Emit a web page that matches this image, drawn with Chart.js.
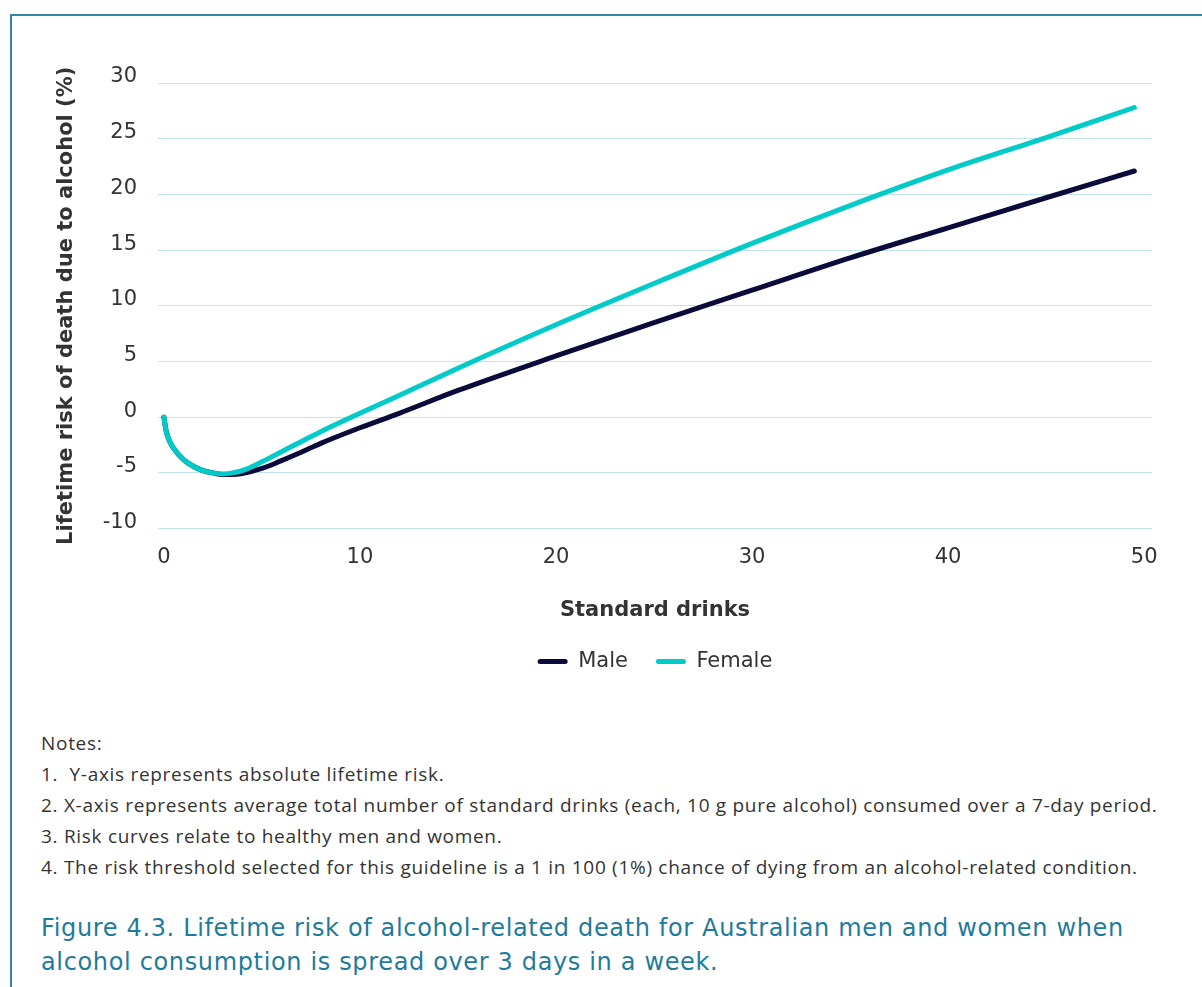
<!DOCTYPE html>
<html>
<head>
<meta charset="utf-8">
<script src="https://cdn.jsdelivr.net/npm/chart.js@4"></script>
<style>
  body { margin: 0; background: #fff; font-family: "DejaVu Sans", sans-serif; }
  .frame { position: absolute; left: 10px; top: 14px; width: 1200px; height: 1000px;
           border-top: 2px solid #3583a6; border-left: 2px solid #3583a6; }
  #wrap { position: absolute; left: 12px; top: 16px; width: 1180px; height: 690px; }
  .notes { position: absolute; left: 41px; top: 728px; font-family: "Open Sans", sans-serif; font-size: 19px;
           letter-spacing: 0.7px; color: #333; }
  .notes p { margin: 0; line-height: 31px; white-space: nowrap; }
  .caption { position: absolute; left: 41px; top: 911px; font-size: 24px; letter-spacing: 0.65px;
             color: #1f7b9c; line-height: 34px; white-space: nowrap; }
</style>
</head>
<body>
<div class="frame"></div>
<div id="wrap"><canvas id="riskChart"></canvas></div>
<div class="notes">
  <p>Notes:</p>
  <p>1.&nbsp; Y-axis represents absolute lifetime risk.</p>
  <p>2. X-axis represents average total number of standard drinks (each, 10 g pure alcohol) consumed over a 7-day period.</p>
  <p>3. Risk curves relate to healthy men and women.</p>
  <p>4. The risk threshold selected for this guideline is a 1 in 100 (1%) chance of dying from an alcohol-related condition.</p>
</div>
<div class="caption">Figure 4.3. Lifetime risk of alcohol-related death for Australian men and women when<br>alcohol consumption is spread over 3 days in a week.</div>
<script>
const drinks = [0, 0.1, 0.25, 0.5, 1, 1.5, 2, 2.5, 3, 3.5, 4, 5, 6, 7, 8, 10, 12, 15, 20, 25, 30, 35, 40, 45, 49.5];
const male   = [0, -1.1, -2.0, -2.8, -3.8, -4.4, -4.8, -5.0, -5.15, -5.15, -5.05, -4.6, -3.9, -3.15, -2.35, -0.95, 0.35, 2.4, 5.5, 8.5, 11.4, 14.3, 17.0, 19.7, 22.1];
const female = [0, -1.1, -2.0, -2.8, -3.8, -4.4, -4.8, -5.0, -5.1, -5.0, -4.8, -4.0, -3.1, -2.2, -1.3, 0.35, 1.95, 4.4, 8.3, 12.0, 15.6, 19.0, 22.2, 25.1, 27.8];
const xTicks = [0, 10, 20, 30, 40, 50];
const yTicks = [-10, -5, 0, 5, 10, 15, 20, 25, 30];

const toPoints = ys => drinks.map((d, i) => ({ x: d, y: ys[i] }));
const txt = '#333';
const fam = 'DejaVu Sans';

const ctx = document.getElementById('riskChart').getContext('2d');
new Chart(ctx, {
    type: 'line',
    data: {
        datasets: [{
            label: 'Female',
            data: toPoints(female),
            borderColor: '#00cbc9',
            backgroundColor: '#00cbc9',
            borderWidth: 5,
            borderCapStyle: 'round',
            pointRadius: 0,
            cubicInterpolationMode: 'monotone'
        }, {
            label: 'Male',
            data: toPoints(male),
            borderColor: '#0b0b3b',
            backgroundColor: '#0b0b3b',
            borderWidth: 5,
            borderCapStyle: 'round',
            pointRadius: 0,
            cubicInterpolationMode: 'monotone'
        }]
    },
    options: {
        responsive: true,
        maintainAspectRatio: false,
        animation: false,
        layout: { padding: { left: 0, top: 67, right: 40, bottom: 24 } },
        plugins: {
            tooltip: { enabled: false },
            legend: {
                position: 'bottom',
                fullSize: false,
                reverse: true,
                labels: {
                    color: txt,
                    font: { family: fam, size: 21 },
                    boxWidth: 30,
                    boxHeight: 5,
                    padding: 28,
                    useBorderRadius: true,
                    borderRadius: 2.5,
                    generateLabels(chart) {
                        const items = Chart.defaults.plugins.legend.labels.generateLabels(chart);
                        items.forEach(it => { it.fillStyle = it.strokeStyle; it.lineWidth = 0; it.borderRadius = 2.5; });
                        return items;
                    }
                }
            }
        },
        scales: {
            x: {
                type: 'linear',
                min: -0.3,
                max: 50.4,
                afterBuildTicks(scale) { scale.ticks = xTicks.map(v => ({ value: v })); },
                grid: { display: false, drawTicks: false },
                border: { display: false },
                ticks: { color: txt, padding: 16, font: { family: fam, size: 21 } },
                title: {
                    display: true,
                    text: 'Standard drinks',
                    color: txt,
                    padding: { top: 12, bottom: 0 },
                    font: { family: fam, size: 21, weight: 'bold' }
                }
            },
            y: {
                min: -10,
                max: 30,
                afterBuildTicks(scale) { scale.ticks = yTicks.map(v => ({ value: v })); },
                afterFit(scale) { scale.width = 146; },
                grid: { color: '#c2e4ed', lineWidth: 1, drawTicks: false },
                border: { display: false },
                ticks: { color: txt, padding: 21, labelOffset: -6, font: { family: fam, size: 21 } },
                title: {
                    display: true,
                    text: 'Lifetime risk of death due to alcohol (%)',
                    color: txt,
                    padding: { top: 42, bottom: 0 },
                    font: { family: fam, size: 21, weight: 'bold' }
                }
            }
        }
    }
});
</script>
</body>
</html>
